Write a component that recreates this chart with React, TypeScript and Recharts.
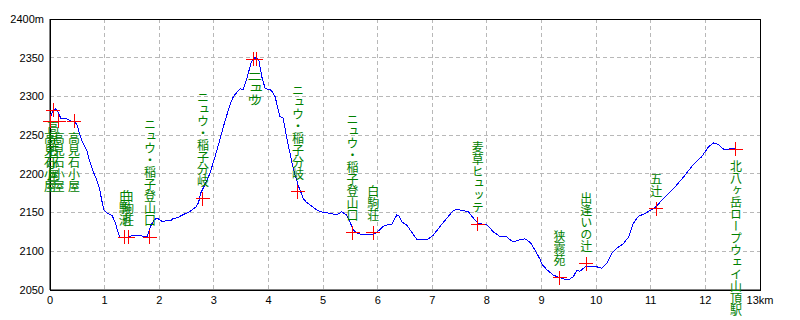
import React from "react";
import {
  ComposedChart,
  Line,
  Scatter,
  XAxis,
  YAxis,
  CartesianGrid,
  ReferenceArea,
} from "recharts";

// elevation profile, distance in km / altitude in m
const PROFILE_KM = [
  0, 0.05, 0.1, 0.15, 0.2, 0.3, 0.4, 0.45, 0.5, 0.55, 0.6, 0.67, 0.72, 0.79,
  0.85, 0.9, 0.95, 0.99, 1.05, 1.14, 1.2, 1.26, 1.29, 1.4, 1.5, 1.65, 1.78,
  1.84, 1.9, 1.96, 2.0, 2.07, 2.13, 2.2, 2.25, 2.35, 2.43, 2.55, 2.67, 2.72,
  2.76, 2.85, 2.93, 3.02, 3.11, 3.17, 3.23, 3.3, 3.36, 3.42, 3.48, 3.54, 3.6,
  3.63, 3.69, 3.75, 3.82, 3.88, 3.94, 4.03, 4.08, 4.12, 4.21, 4.27, 4.33, 4.42,
  4.46, 4.55, 4.64, 4.7, 4.76, 4.85, 4.95, 5.05, 5.13, 5.2, 5.25, 5.34, 5.43,
  5.49, 5.56, 5.62, 5.68, 5.8, 5.93, 6.04, 6.1, 6.17, 6.26, 6.35, 6.4, 6.44,
  6.53, 6.62, 6.72, 6.81, 6.93, 7.02, 7.14, 7.27, 7.39, 7.46, 7.54, 7.66, 7.75,
  7.84, 7.92, 8.0, 8.12, 8.24, 8.36, 8.42, 8.49, 8.6, 8.7, 8.8, 8.9, 8.97, 9.0,
  9.1, 9.22, 9.37, 9.49, 9.58, 9.65, 9.7, 9.8, 9.89, 10.01, 10.1, 10.2, 10.29,
  10.38, 10.5, 10.6, 10.68, 10.77, 10.9, 11.02, 11.1, 11.23, 11.42, 11.6,
  11.78, 11.93, 12.06, 12.15, 12.24, 12.33, 12.42, 12.56,
];
const PROFILE_ELEV = [
  2270, 2282, 2284, 2280, 2271, 2271, 2268, 2268, 2262, 2250, 2240, 2231, 2218,
  2203, 2193, 2183, 2165, 2153, 2149, 2146, 2136, 2121, 2118, 2118, 2120, 2120,
  2119, 2132, 2140, 2143, 2141, 2138, 2140, 2139, 2142, 2144, 2147, 2151, 2157,
  2163, 2175, 2188, 2201, 2222, 2244, 2260, 2274, 2290, 2300, 2305, 2310, 2309,
  2322, 2330, 2345, 2350, 2348, 2325, 2310, 2309, 2305, 2300, 2274, 2272, 2248,
  2218, 2205, 2184, 2168, 2163, 2160, 2155, 2151, 2150, 2149, 2148, 2147, 2151,
  2147, 2138, 2127, 2124, 2122, 2122, 2122, 2128, 2132, 2134, 2135, 2147, 2145,
  2138, 2134, 2125, 2115, 2115, 2116, 2121, 2132, 2143, 2153, 2154, 2153, 2151,
  2143, 2136, 2135, 2134, 2125, 2119, 2119, 2115, 2112, 2115, 2116, 2111, 2099,
  2090, 2084, 2076, 2069, 2065, 2063, 2067, 2076, 2074, 2080, 2081, 2080, 2078,
  2085, 2098, 2104, 2110, 2119, 2136, 2145, 2149, 2154, 2158, 2168, 2181, 2196,
  2212, 2222, 2235, 2240, 2238, 2232, 2232, 2233,
];

// waypoints
const WP_NAME = [
  "高見石小屋", "高見石小屋", "高見石小屋", "高見石小屋",
  "白駒池", "白駒荘", "ニュウ・稲子登山口", "ニュウ・稲子分岐",
  "ニュウ", "ニュウ", "ニュウ・稲子分岐", "ニュウ・稲子登山口",
  "白駒荘", "麦草ヒュッテ", "狭霧苑", "出逢いの辻", "五辻",
  "北八ヶ岳ロープウェイ山頂駅",
];
const WP_KM = [
  0.06, 0, 0.16, 0.44, 1.37, 1.43, 1.83, 2.8, 3.72, 3.78, 4.54, 5.54, 5.92,
  7.83, 9.33, 9.82, 11.1, 12.56,
];
const WP_ELEV = [
  2282, 2268, 2268, 2268, 2118, 2118, 2118, 2168, 2348, 2348, 2177, 2124, 2124,
  2135, 2066, 2084, 2155, 2232,
];

const X_TICKS = [0, 1, 2, 3, 4, 5, 6, 7, 8, 9, 10, 11, 12, 13];
const Y_TICKS = [2050, 2100, 2150, 2200, 2250, 2300, 2350, 2400];

// which labels hang below their marker (the rest sit above)
const BELOW = [0, 1, 2, 3, 8, 9, 17];

const profile = PROFILE_KM.map((km, i) => ({ km, elev: PROFILE_ELEV[i] }));
const waypoints = WP_NAME.map((name, i) => ({
  km: WP_KM[i],
  elev: WP_ELEV[i],
  name,
  below: BELOW.includes(i),
}));

const tickFont = { fontFamily: "'Liberation Sans', Arial, sans-serif", fontSize: 11, fill: "#000" };

const Waypoint = (props: any) => {
  const { cx, cy, payload } = props;
  if (cx == null || cy == null) return null;
  const below = payload.below;
  return (
    <g>
      <line x1={cx - 7} x2={cx + 7} y1={cy} y2={cy} stroke="#ff0000" strokeWidth={1} shapeRendering="crispEdges" />
      <line x1={cx} x2={cx} y1={cy - 7} y2={cy + 7} stroke="#ff0000" strokeWidth={1} shapeRendering="crispEdges" />
      <text
        x={cx}
        y={below ? cy + 11 : cy - 11}
        textAnchor={below ? "start" : "end"}
        fill="#008000"
        fontSize={12}
        fontFamily="'Noto Sans CJK JP', sans-serif"
        style={{ writingMode: "vertical-rl", textOrientation: "upright" } as any}
      >
        {payload.name}
      </text>
    </g>
  );
};

export default function App() {
  return (
    <div style={{ position: "absolute", left: 0, top: 0, width: 800, height: 320, background: "#fff" }}>
      <ComposedChart
        width={800}
        height={320}
        margin={{ top: 19, right: 40, bottom: 0, left: 0 }}
      >
        <CartesianGrid stroke="#b8b8b8" strokeDasharray="4 3" shapeRendering="crispEdges" />
        <XAxis
          type="number"
          dataKey="km"
          domain={[0, 13]}
          ticks={X_TICKS}
          interval={0}
          height={30}
          tickLine={false}
          tickSize={4}
          tickMargin={2}
          axisLine={{ stroke: "#000" }}
          tick={tickFont}
          tickFormatter={(v: number) => (v === 13 ? "13km" : String(v))}
        />
        <YAxis
          type="number"
          domain={[2050, 2400]}
          ticks={Y_TICKS}
          interval={0}
          width={50}
          tickLine={false}
          tickSize={4}
          tickMargin={2}
          axisLine={{ stroke: "#000" }}
          tick={tickFont}
          tickFormatter={(v: number) => (v === 2400 ? "2400m" : String(v))}
        />
        <ReferenceArea
          x1={0}
          x2={13}
          y1={2050}
          y2={2400}
          fill="none"
          stroke="#000"
          strokeWidth={1}
          ifOverflow="visible"
          shapeRendering="crispEdges"
        />
        <Line
          data={profile}
          dataKey="elev"
          type="linear"
          stroke="#0000ff"
          strokeWidth={1}
          dot={false}
          activeDot={false}
          isAnimationActive={false}
          shapeRendering="crispEdges"
        />
        <Scatter
          data={waypoints}
          dataKey="elev"
          shape={Waypoint}
          isAnimationActive={false}
        />
      </ComposedChart>
    </div>
  );
}
